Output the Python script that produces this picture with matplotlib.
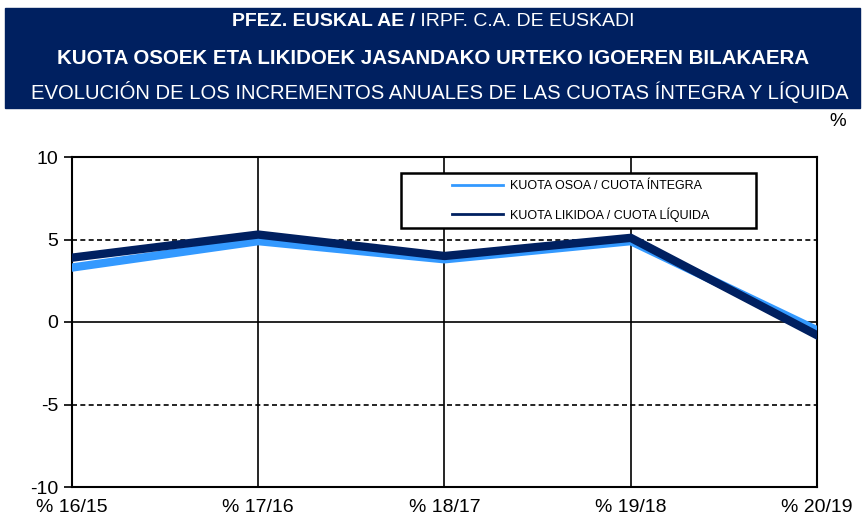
import matplotlib
matplotlib.use("Agg")
import matplotlib.pyplot as plt
from matplotlib.lines import Line2D
from matplotlib.patches import Rectangle
from matplotlib.offsetbox import TextArea, HPacker, AnchoredOffsetbox

categories = ["% 16/15", "% 17/16", "% 18/17", "% 19/18", "% 20/19"]
cuota_integra = [3.3, 4.9, 3.8, 4.9, -0.5]
cuota_liquida = [3.9, 5.3, 4.0, 5.1, -0.8]
series_labels = ["KUOTA OSOA / CUOTA ÍNTEGRA", "KUOTA LIKIDOA / CUOTA LÍQUIDA"]
yticks = [-10, -5, 0, 5, 10]

NAVY = "#002060"
LIGHT = "#3399FF"
FONT = ["Liberation Sans", "DejaVu Sans"]
plt.rcParams["font.family"] = FONT

W, H = 867, 524
fig = plt.figure(figsize=(W / 100, H / 100), dpi=100)

# Title banner
fig.patches.append(Rectangle((5 / W, 1 - 108 / H), 855 / W, 100 / H,
                             transform=fig.transFigure, color=NAVY, zorder=0))
p1 = TextArea("PFEZ. EUSKAL AE /", textprops=dict(color="white", fontsize=14, fontweight="bold", family=FONT))
p2 = TextArea(" IRPF. C.A. DE EUSKADI", textprops=dict(color="white", fontsize=14, family=FONT))
box = HPacker(children=[p1, p2], align="center", pad=0, sep=0)
ab = AnchoredOffsetbox(loc="center", child=box, frameon=False,
                       bbox_to_anchor=(433 / W, 1 - 22 / H), bbox_transform=fig.transFigure,
                       pad=0, borderpad=0)
fig.add_artist(ab)
fig.text(433 / W, 1 - 58 / H, "KUOTA OSOEK ETA LIKIDOEK JASANDAKO URTEKO IGOEREN BILAKAERA",
         ha="center", va="center", color="white", fontsize=14.8, fontweight="bold")
fig.text(440 / W, 1 - 92 / H, "EVOLUCIÓN DE LOS INCREMENTOS ANUALES DE LAS CUOTAS ÍNTEGRA Y LÍQUIDA",
         ha="center", va="center", color="white", fontsize=14.6)
fig.text(838 / W, 1 - 121 / H, "%", ha="center", va="center", fontsize=13.5, color="black")

# Axes
x0, x1 = 72, 817
ytop, ybot = 157, 487
ax = fig.add_axes([x0 / W, 1 - ybot / H, (x1 - x0) / W, (ybot - ytop) / H])
x = list(range(len(categories)))
ax.set_xlim(0, len(categories) - 1)
ax.set_ylim(-10, 10)

for yv in [-5, 5]:
    ax.axhline(yv, color="black", lw=1.2, ls=(0, (3, 2)), zorder=1)
ax.axhline(0, color="black", lw=1.2, zorder=1)
for xv in x[1:-1]:
    ax.axvline(xv, color="black", lw=1.2, zorder=1)

ax.plot(x, cuota_integra, color=LIGHT, lw=6, solid_joinstyle="miter", zorder=3)
ax.plot(x, cuota_liquida, color=NAVY, lw=6, solid_joinstyle="miter", zorder=4)

for s in ax.spines.values():
    s.set_linewidth(1.5)
    s.set_color("black")

ax.set_yticks(yticks)
ax.set_yticklabels([str(v) for v in yticks], fontsize=14)
ax.set_xticks(x)
ax.set_xticklabels(categories, fontsize=14)
ax.tick_params(axis="y", direction="out", length=6, width=1.2, pad=4)
ax.tick_params(axis="x", length=0, pad=9)

# Legend frame (white box) and frameless legend inside it
lx0, lx1, ly0, ly1 = 401, 756, 173, 228
fig.patches.append(Rectangle((lx0 / W, 1 - ly1 / H), (lx1 - lx0) / W, (ly1 - ly0) / H,
                             transform=fig.transFigure, facecolor="white", edgecolor="black",
                             lw=1.8, zorder=5))
handles = [Line2D([], [], color=LIGHT, lw=2), Line2D([], [], color=NAVY, lw=2)]
leg = fig.legend(handles, series_labels, loc="center left",
                 bbox_to_anchor=(452 / W, 1 - 201 / H), bbox_transform=fig.transFigure,
                 frameon=False, fontsize=9, handlelength=4.1, handletextpad=0.56,
                 borderpad=0, labelspacing=1.2, borderaxespad=0)
leg.set_zorder(6)

fig.savefig("out.png", dpi=100)
